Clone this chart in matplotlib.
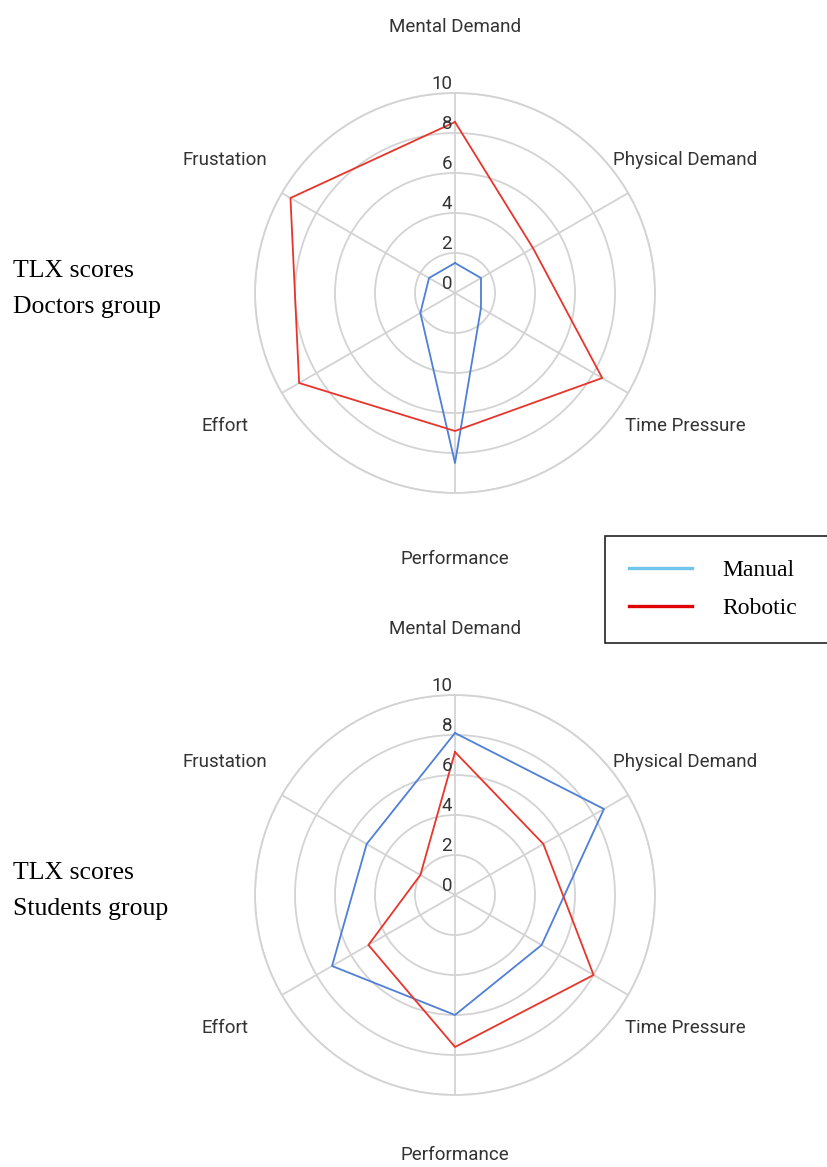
import numpy as np
import matplotlib
matplotlib.use("Agg")
import matplotlib.pyplot as plt
from matplotlib.lines import Line2D

categories = ['Mental Demand', 'Physical Demand', 'Time Pressure',
              'Performance', 'Effort', 'Frustation']
doctors_manual = [1.5, 1.5, 1.5, 8.5, 2.0, 1.5]
doctors_robotic = [8.55, 4.5, 8.5, 6.9, 9.0, 9.5]
students_manual = [8.1, 8.6, 5.0, 6.0, 7.1, 5.1]
students_robotic = [7.15, 5.1, 8.0, 7.6, 5.0, 2.0]
r_ticks = [0, 2, 4, 6, 8, 10]

W, H = 828, 1167
BLUE = '#4f7fd6'
RED = '#e8352b'
GRID = '#d3d3d3'


def radar(fig, cx, cy, rad, manual, robotic, bottom_label_r=13.3):
    ax = fig.add_axes([(cx - rad) / W, 1 - (cy + rad) / H, 2 * rad / W, 2 * rad / H],
                      projection='polar')
    ax.set_theta_offset(np.pi / 2)
    ax.set_theta_direction(-1)
    angles = np.linspace(0, 2 * np.pi, len(categories), endpoint=False)
    ax.set_ylim(0, 10)
    ax.set_yticks(r_ticks[1:])
    ax.set_yticklabels([])
    ax.set_xticks(angles)
    ax.set_xticklabels([])
    ax.tick_params(length=0)
    ax.grid(True, color=GRID, linewidth=1.3)
    ax.spines['polar'].set_color(GRID)
    ax.spines['polar'].set_linewidth(1.3)

    closed = np.append(angles, angles[0])
    ax.plot(closed, manual + manual[:1], color=BLUE, linewidth=1.3, zorder=3)
    ax.plot(closed, robotic + robotic[:1], color=RED, linewidth=1.3, zorder=3)

    for r in r_ticks:
        ax.annotate(str(r), xy=(0, r), xytext=(-2, 3), textcoords='offset points',
                    ha='right', va='baseline', fontsize=13.5, family='Roboto',
                    color='#333333', zorder=4)
    for a, name in zip(angles, categories):
        lr = bottom_label_r if name == 'Performance' else 13.3
        ax.text(a, lr, name, ha='center', va='center', fontsize=13.5,
                family='Roboto', color='#333333', clip_on=False)
    return ax


fig = plt.figure(figsize=(W / 100, H / 100), dpi=100)

radar(fig, 455, 293, 200, doctors_manual, doctors_robotic)
radar(fig, 455, 895, 200, students_manual, students_robotic, bottom_label_r=13.0)

fig.text(13 / W, 1 - 277 / H, 'TLX scores', family='Liberation Serif',
         fontsize=18.5, va='baseline', ha='left')
fig.text(13 / W, 1 - 313 / H, 'Doctors group', family='Liberation Serif',
         fontsize=18.5, va='baseline', ha='left')
fig.text(13 / W, 1 - 879 / H, 'TLX scores', family='Liberation Serif',
         fontsize=18.5, va='baseline', ha='left')
fig.text(13 / W, 1 - 915 / H, 'Students group', family='Liberation Serif',
         fontsize=18.5, va='baseline', ha='left')

handles = [Line2D([], [], color='#72c5ea', linewidth=2.4),
           Line2D([], [], color='#e00000', linewidth=2.4)]
leg = fig.legend(handles, ['Manual', 'Robotic'], loc='upper left',
                 bbox_to_anchor=(605 / W, 1 - 646 / H, 223 / W, 110 / H),
                 mode='expand', borderaxespad=0, borderpad=1.0,
                 handlelength=2.7, handletextpad=1.27, labelspacing=0.7,
                 fancybox=False, framealpha=1,
                 prop={'family': 'Liberation Serif', 'size': 17})
leg.get_frame().set_edgecolor('#222222')
leg.get_frame().set_linewidth(1.2)

fig.savefig('out.png', dpi=100)
